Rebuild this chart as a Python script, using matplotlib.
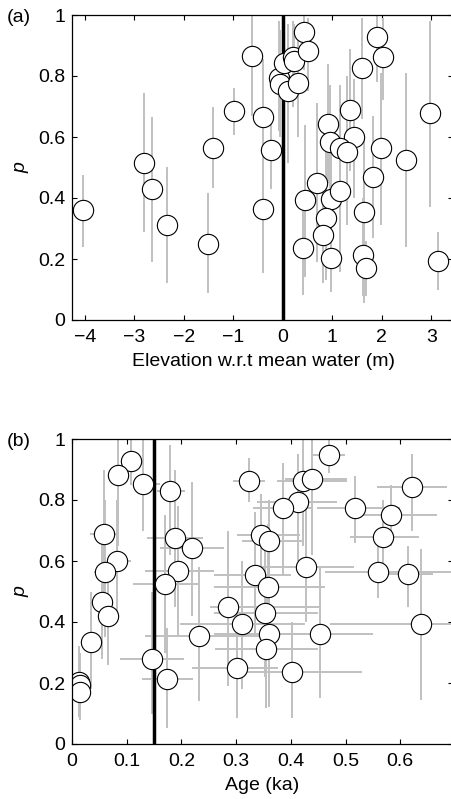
import numpy as np
import matplotlib
matplotlib.use("Agg")
import matplotlib.pyplot as plt

plt.rcParams['font.family'] = ['Liberation Sans', 'DejaVu Sans']

# panel (a): elevation vs p, with vertical uncertainty range
elev = [-0.63, -0.98, -1.40, -2.80, -2.65, -0.39, -0.24, -0.07, -0.05, 0.03,
        0.11, 0.20, 0.22, 0.42, 0.52, 0.30, 1.90, 2.03, 1.60, 2.98,
        0.92, 1.35, 1.43, 0.96, 1.16, 1.29, 1.99, 2.49, 1.83, 0.69,
        -4.04, -2.34, -1.50, -0.39, 0.46, 0.98, 1.16, 0.87, 1.65, 0.82,
        0.40, 0.98, 1.63, 1.68, 3.14]
p_a = [0.865, 0.685, 0.563, 0.516, 0.430, 0.667, 0.556, 0.795, 0.773, 0.844,
       0.752, 0.862, 0.850, 0.945, 0.882, 0.776, 0.929, 0.861, 0.827, 0.678,
       0.643, 0.689, 0.601, 0.583, 0.565, 0.552, 0.563, 0.525, 0.470, 0.448,
       0.361, 0.311, 0.248, 0.363, 0.393, 0.396, 0.423, 0.335, 0.353, 0.279,
       0.237, 0.204, 0.213, 0.172, 0.193]
p_a_lo = [0.67, 0.607, 0.433, 0.29, 0.19, 0.52, 0.43, 0.62, 0.60, 0.70,
          0.515, 0.70, 0.72, 0.82, 0.75, 0.60, 0.78, 0.72, 0.66, 0.37,
          0.45, 0.49, 0.40, 0.38, 0.36, 0.31, 0.31, 0.24, 0.27, 0.19,
          0.24, 0.12, 0.087, 0.153, 0.142, 0.15, 0.158, 0.13, 0.055, 0.12,
          0.082, 0.093, 0.08, 0.08, 0.098]
p_a_hi = [1.0, 0.76, 0.698, 0.745, 0.667, 0.856, 0.68, 0.98, 0.95, 0.99,
          0.97, 0.98, 0.97, 1.0, 0.99, 0.95, 1.0, 0.99, 0.99, 0.98,
          0.84, 0.89, 0.79, 0.77, 0.77, 0.80, 0.81, 0.81, 0.67, 0.71,
          0.475, 0.503, 0.415, 0.58, 0.64, 0.60, 0.62, 0.55, 0.60, 0.48,
          0.42, 0.40, 0.40, 0.26, 0.29]

# panel (b): age vs p, with ranges on both
age = [0.107, 0.084, 0.130, 0.180, 0.0585, 0.082, 0.061, 0.188, 0.219, 0.194,
       0.170, 0.324, 0.469, 0.423, 0.438, 0.414, 0.385, 0.621, 0.517, 0.583,
       0.569, 0.346, 0.360, 0.427, 0.335, 0.359, 0.560, 0.615, 0.054, 0.285,
       0.066, 0.353, 0.310, 0.638, 0.232, 0.361, 0.453, 0.034, 0.354, 0.146,
       0.301, 0.402, 0.173, 0.0134, 0.0143, 0.014]
p_b = [0.929, 0.882, 0.851, 0.829, 0.689, 0.600, 0.563, 0.676, 0.644, 0.568,
       0.526, 0.862, 0.948, 0.862, 0.868, 0.794, 0.773, 0.844, 0.773, 0.751,
       0.680, 0.685, 0.667, 0.581, 0.554, 0.516, 0.563, 0.557, 0.467, 0.448,
       0.421, 0.428, 0.393, 0.393, 0.354, 0.361, 0.361, 0.334, 0.310, 0.278,
       0.248, 0.237, 0.212, 0.204, 0.193, 0.171]
age_lo = [0.09, 0.07, 0.112, 0.155, 0.033, 0.065, 0.04, 0.137, 0.161, 0.134,
          0.112, 0.295, 0.441, 0.374, 0.39, 0.338, 0.33, 0.557, 0.447, 0.515,
          0.508, 0.301, 0.31, 0.338, 0.26, 0.259, 0.463, 0.56, 0.035, 0.252,
          0.055, 0.26, 0.198, 0.472, 0.134, 0.26, 0.35, 0.02, 0.262, 0.088,
          0.219, 0.295, 0.128, 0.005, 0.005, 0.005]
age_hi = [0.12, 0.10, 0.160, 0.207, 0.085, 0.107, 0.08, 0.240, 0.277, 0.259,
          0.234, 0.353, 0.499, 0.502, 0.502, 0.484, 0.44, 0.685, 0.60, 0.667,
          0.634, 0.417, 0.42, 0.515, 0.40, 0.463, 0.70, 0.66, 0.075, 0.454,
          0.08, 0.45, 0.426, 0.70, 0.356, 0.45, 0.55, 0.05, 0.449, 0.204,
          0.377, 0.530, 0.221, 0.025, 0.025, 0.025]
p_b_lo = [0.85, 0.65, 0.70, 0.62, 0.49, 0.40, 0.35, 0.45, 0.42, 0.35,
          0.30, 0.794, 0.89, 0.65, 0.62, 0.60, 0.55, 0.70, 0.66, 0.65,
          0.57, 0.56, 0.52, 0.40, 0.35, 0.30, 0.48, 0.45, 0.28, 0.19,
          0.26, 0.22, 0.18, 0.144, 0.14, 0.12, 0.15, 0.18, 0.118, 0.10,
          0.085, 0.085, 0.052, 0.09, 0.09, 0.08]
p_b_hi = [1.0, 1.0, 1.0, 0.98, 0.898, 0.80, 0.80, 0.90, 0.86, 0.78,
          0.75, 0.938, 1.0, 1.0, 1.0, 0.95, 0.92, 0.95, 0.88, 0.85,
          0.80, 0.82, 0.80, 0.80, 0.76, 0.72, 0.69, 0.65, 0.70, 0.70,
          0.58, 0.65, 0.60, 0.64, 0.58, 0.62, 0.58, 0.50, 0.55, 0.50,
          0.45, 0.40, 0.38, 0.32, 0.30, 0.28]

err_col = '#c0c0c0'
ytk = [0, 0.2, 0.4, 0.6, 0.8, 1]
ytk_lab = ['0', '0.2', '0.4', '0.6', '0.8', '1']

fig = plt.figure(figsize=(4.51, 7.99), dpi=100)
ax1 = fig.add_axes([72 / 451, 479 / 799, 381 / 451, 305 / 799])
ax2 = fig.add_axes([72 / 451, 55 / 799, 381 / 451, 305 / 799])


def style(ax):
    ax.set_ylim(0, 1)
    ax.set_yticks(ytk)
    ax.set_yticklabels(ytk_lab)
    ax.tick_params(direction='in', top=True, right=True, length=3.5,
                   width=0.8, labelsize=14)
    ax.tick_params(axis='x', pad=6.5)
    ax.tick_params(axis='y', pad=5)
    for s in ax.spines.values():
        s.set_linewidth(0.9)
    ax.set_ylabel('p', fontsize=14, style='italic', va='center')
    ax.yaxis.set_label_coords(-0.135, 0.5)


# (a)
x = np.array(elev)
y = np.array(p_a)
ax1.errorbar(x, y, yerr=[y - np.array(p_a_lo), np.array(p_a_hi) - y],
             fmt='none', ecolor=err_col, elinewidth=1.4)
ax1.axvline(0, color='k', lw=2.5)
ax1.plot(x, y, ls='none', marker='o', ms=14.6, mfc='white',
         mec='k', mew=0.8)
ax1.set_xlim(-4.257, 3.44)
ax1.set_xticks(range(-4, 4))
ax1.set_xticklabels(['\u2212' + str(-v) if v < 0 else str(v) for v in range(-4, 4)])
style(ax1)
ax1.set_xlabel('Elevation w.r.t mean water (m)', fontsize=14, va='top')
ax1.xaxis.set_label_coords((263 - 72) / 381, -0.108)

# (b)
x = np.array(age)
y = np.array(p_b)
ax2.errorbar(x, y, xerr=[x - np.array(age_lo), np.array(age_hi) - x],
             yerr=[y - np.array(p_b_lo), np.array(p_b_hi) - y],
             fmt='none', ecolor=err_col, elinewidth=1.4)
ax2.axvline(0.15, color='k', lw=2.5)
ax2.plot(x, y, ls='none', marker='o', ms=14.6, mfc='white',
         mec='k', mew=0.8)
ax2.set_xlim(0, 0.6965)
ax2.set_xticks([0, 0.1, 0.2, 0.3, 0.4, 0.5, 0.6])
ax2.set_xticklabels(['0', '0.1', '0.2', '0.3', '0.4', '0.5', '0.6'])
style(ax2)
ax2.set_xlabel('Age (ka)', fontsize=14, va='top')
ax2.xaxis.set_label_coords((262.5 - 72) / 381, -0.108)

fig.text(7 / 451, 1 - 18 / 799, '(a)', fontsize=14, ha='left', va='center')
fig.text(7 / 451, 1 - 441 / 799, '(b)', fontsize=14, ha='left', va='center')

fig.savefig('out.png', dpi=100)
